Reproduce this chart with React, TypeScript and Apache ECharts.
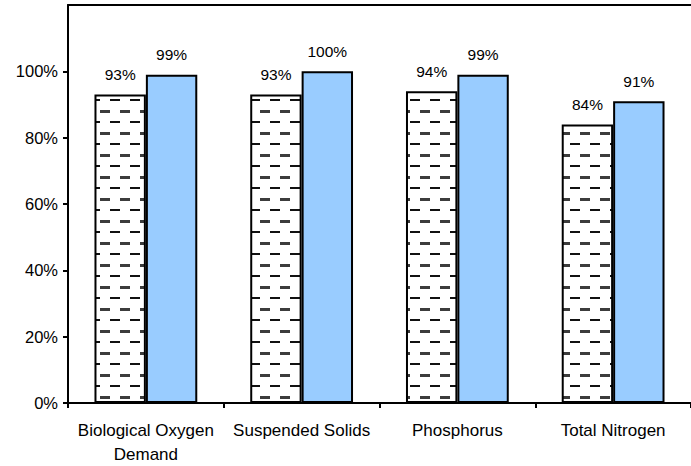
import React, { useEffect, useRef } from "react";
import * as echarts from "echarts";

const categories = ["Biological Oxygen\nDemand", "Suspended Solids", "Phosphorus", "Total Nitrogen"];
const seriesA = [93, 93, 94, 84];
const seriesB = [99, 100, 99, 91];
const yTicks = [0, 20, 40, 60, 80, 100];

const FONT = 'Arial, "Liberation Sans", sans-serif';

function makePattern(): HTMLCanvasElement {
  const c = document.createElement("canvas");
  c.width = 20;
  c.height = 22;
  const ctx = c.getContext("2d")!;
  ctx.fillStyle = "#ffffff";
  ctx.fillRect(0, 0, 20, 22);
  ctx.fillStyle = "#3c3c3c";
  ctx.fillRect(0, 0, 10, 3);
  ctx.fillStyle = "#111111";
  ctx.fillRect(10, 11, 10, 2);
  return c;
}

export default function App() {
  const ref = useRef<HTMLDivElement>(null);
  useEffect(() => {
    document.body.style.margin = "0";
    if (!ref.current) return;
    const chart = echarts.init(ref.current, undefined, { renderer: "svg" });
    const pattern = makePattern();
    const labelStyle = {
      show: true,
      position: "top" as const,
      distance: 12,
      color: "#000",
      fontSize: 15.5,
      fontFamily: FONT,
      formatter: (p: any) => p.value + "%",
    };
    chart.setOption({
      animation: false,
      backgroundColor: "#ffffff",
      grid: { left: 68, top: 5, width: 632, height: 398, containLabel: false },
      xAxis: [
        {
          type: "category",
          data: categories,
          position: "bottom",
          axisLine: { show: true, lineStyle: { color: "#000", width: 2 } },
          axisTick: { show: true, length: 5, lineStyle: { color: "#000", width: 2 } },
          axisLabel: { color: "#000", fontSize: 17, fontFamily: FONT, margin: 15, lineHeight: 24, interval: 0 },
          splitLine: { show: false },
        },
        {
          type: "category",
          data: categories,
          position: "top",
          axisLine: { show: true, lineStyle: { color: "#000", width: 2 } },
          axisTick: { show: false },
          axisLabel: { show: false },
          splitLine: { show: false },
        },
      ],
      yAxis: {
        type: "value",
        min: 0,
        max: 120,
        interval: 20,
        axisLine: { show: true, lineStyle: { color: "#000", width: 2 } },
        axisTick: { show: true, length: 5, customValues: yTicks, lineStyle: { color: "#000", width: 2 } },
        axisLabel: {
          color: "#000",
          fontSize: 16.5,
          fontFamily: FONT,
          margin: 10,
          customValues: yTicks,
          formatter: (v: number) => (v === 120 ? "" : v + "%"),
        },
        splitLine: { show: false },
      },
      series: [
        {
          type: "bar",
          data: seriesA,
          xAxisIndex: 0,
          barGap: "0%",
          barCategoryGap: "34%",
          itemStyle: { color: { image: pattern, repeat: "repeat" }, borderColor: "#000", borderWidth: 2 },
          label: labelStyle,
        },
        {
          type: "bar",
          data: seriesB,
          xAxisIndex: 0,
          barGap: "0%",
          barCategoryGap: "34%",
          itemStyle: { color: "#99CCFF", borderColor: "#000", borderWidth: 2 },
          label: labelStyle,
        },
      ],
    });
    return () => chart.dispose();
  }, []);
  return <div ref={ref} style={{ width: 691, height: 466 }} />;
}
